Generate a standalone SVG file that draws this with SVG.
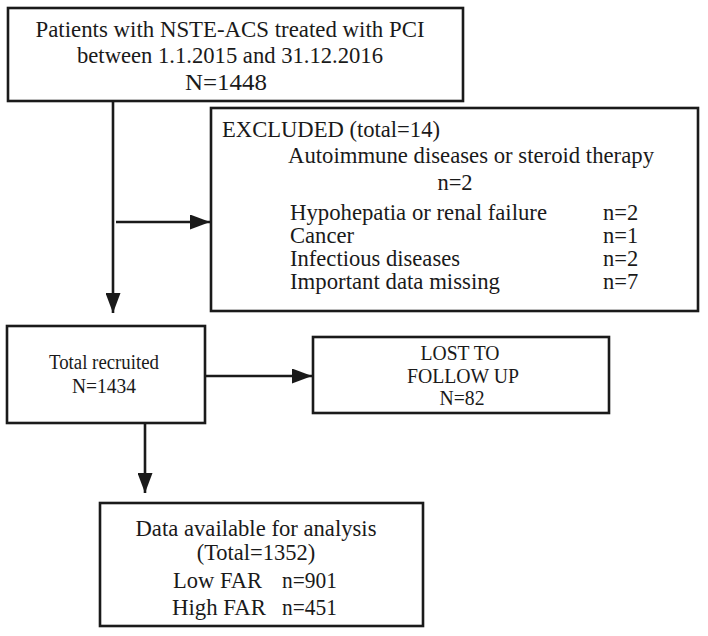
<svg xmlns="http://www.w3.org/2000/svg" width="708" height="636" viewBox="0 0 708 636">
<style>
.box{fill:#fff;stroke:#1a1a1a;stroke-width:2.6}
.t{font-family:"Liberation Serif","Times New Roman",serif;fill:#1a1a1a}
.big{font-size:22.5px}
.sm{font-size:20.5px}
.c{text-anchor:middle}
.ln{fill:none;stroke:#1a1a1a;stroke-width:2.6}
</style>
<defs>
<marker id="ah" viewBox="0 0 20 15" markerWidth="20" markerHeight="15" refX="20" refY="7.5" orient="auto" markerUnits="userSpaceOnUse">
<path d="M0,0 L20,7.5 L0,15 z" fill="#1a1a1a"/>
</marker>
</defs>
<rect width="708" height="636" fill="#fff"/>
<g id="connectors">
<path class="ln" d="M113,101 L113,313" marker-end="url(#ah)"/>
<path class="ln" d="M116,222 L210,222" marker-end="url(#ah)"/>
<path class="ln" d="M205,376 L312,376" marker-end="url(#ah)"/>
<path class="ln" d="M145,423 L145,493" marker-end="url(#ah)"/>
</g>
<g id="patients">
<rect class="box" x="8" y="8" width="455" height="93"/>
<text class="t big c" x="230" y="37" textLength="389" lengthAdjust="spacingAndGlyphs">Patients with NSTE-ACS treated with PCI</text>
<text class="t big c" x="230" y="63" textLength="306" lengthAdjust="spacingAndGlyphs">between 1.1.2015 and 31.12.2016</text>
<text class="t big c" x="226" y="90" textLength="82" lengthAdjust="spacingAndGlyphs">N=1448</text>
</g>
<g id="excluded">
<rect class="box" x="211" y="108" width="487" height="203"/>
<text class="t big" x="222" y="137" textLength="218" lengthAdjust="spacingAndGlyphs">EXCLUDED (total=14)</text>
<text class="t big" x="288" y="163" textLength="366" lengthAdjust="spacingAndGlyphs">Autoimmune diseases or steroid therapy</text>
<text class="t big c" x="455" y="190">n=2</text>
<text class="t big" x="290" y="220" textLength="257" lengthAdjust="spacingAndGlyphs">Hypohepatia or renal failure</text>
<text class="t big" x="290" y="243" textLength="64" lengthAdjust="spacingAndGlyphs">Cancer</text>
<text class="t big" x="290" y="266" textLength="170" lengthAdjust="spacingAndGlyphs">Infectious diseases</text>
<text class="t big" x="290" y="289" textLength="210" lengthAdjust="spacingAndGlyphs">Important data missing</text>
<text class="t big" x="603" y="220">n=2</text>
<text class="t big" x="603" y="243">n=1</text>
<text class="t big" x="603" y="266">n=2</text>
<text class="t big" x="603" y="289">n=7</text>
</g>
<g id="recruited">
<rect class="box" x="7" y="326" width="198" height="97"/>
<text class="t sm c" x="104" y="369" textLength="110" lengthAdjust="spacingAndGlyphs">Total recruited</text>
<text class="t sm c" x="104" y="393" textLength="64" lengthAdjust="spacingAndGlyphs">N=1434</text>
</g>
<g id="lost">
<rect class="box" x="313" y="337" width="296" height="76"/>
<text class="t sm c" x="460" y="360" textLength="79" lengthAdjust="spacingAndGlyphs">LOST TO</text>
<text class="t sm c" x="463" y="383" textLength="112" lengthAdjust="spacingAndGlyphs">FOLLOW UP</text>
<text class="t sm c" x="462" y="405" textLength="45" lengthAdjust="spacingAndGlyphs">N=82</text>
</g>
<g id="analysis">
<rect class="box" x="100" y="503" width="323" height="123"/>
<text class="t big c" x="256" y="536" textLength="241" lengthAdjust="spacingAndGlyphs">Data available for analysis</text>
<text class="t big c" x="256" y="560">(Total=1352)</text>
<text class="t big" x="173" y="588" textLength="89" lengthAdjust="spacingAndGlyphs">Low FAR</text>
<text class="t big" x="282" y="588" textLength="55" lengthAdjust="spacingAndGlyphs">n=901</text>
<text class="t big" x="172" y="615" textLength="94" lengthAdjust="spacingAndGlyphs">High FAR</text>
<text class="t big" x="282" y="615" textLength="55" lengthAdjust="spacingAndGlyphs">n=451</text>
</g>
</svg>
